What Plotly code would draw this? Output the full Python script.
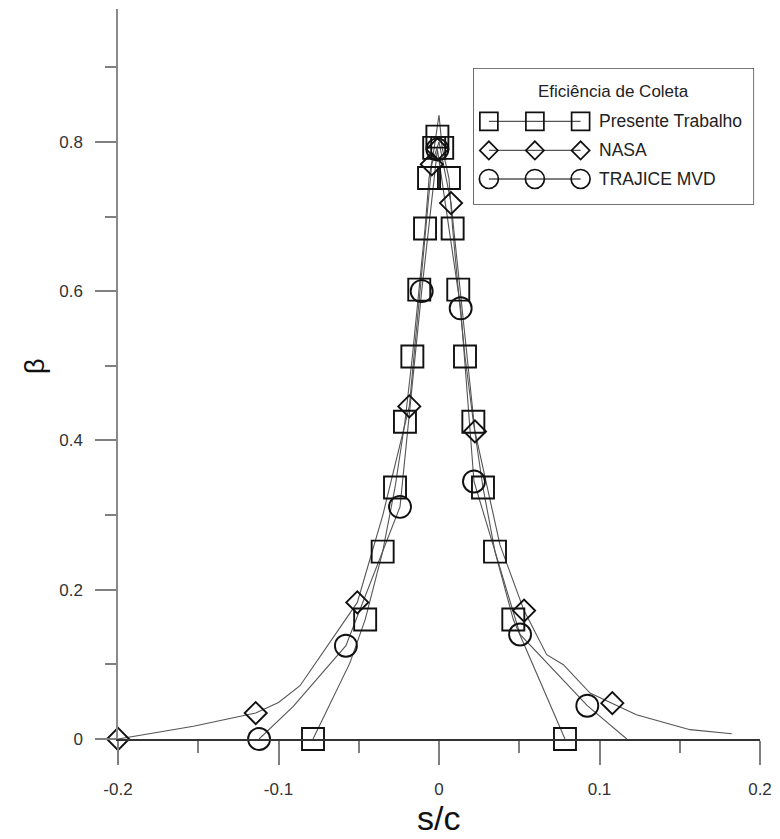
import plotly.graph_objects as go

# ---------------- data ----------------
# Presente Trabalho (squares)
pt_line_x = [-0.0785, -0.0555, -0.046, -0.0351, -0.0274, -0.0212, -0.0166, -0.0123, -0.0087,
             -0.0062, -0.003, 0.0, 0.002, 0.0062, 0.0085, 0.012, 0.0162, 0.0214, 0.0274,
             0.0349, 0.0463, 0.0785]
pt_line_y = [0.0, 0.102, 0.160, 0.251, 0.337, 0.425, 0.5125, 0.602, 0.684,
             0.7515, 0.792, 0.836, 0.792, 0.7515, 0.684, 0.602, 0.5125, 0.425, 0.337,
             0.251, 0.160, 0.0]
pt_mark_x = [-0.0785, -0.046, -0.0351, -0.0274, -0.0212, -0.0166, -0.0123, -0.0087,
             -0.0062, -0.003, -0.001, 0.002, 0.0062, 0.0085, 0.012, 0.0162, 0.0214, 0.0274,
             0.0349, 0.0463, 0.0785]
pt_mark_y = [0.0, 0.160, 0.251, 0.337, 0.425, 0.5125, 0.602, 0.684,
             0.7515, 0.792, 0.807, 0.792, 0.7515, 0.684, 0.602, 0.5125, 0.425, 0.337,
             0.251, 0.160, 0.0]

# NASA (diamonds)
nasa_line_x = [-0.2, -0.153, -0.1142, -0.100, -0.0866, -0.0509, -0.035, -0.0185, -0.0045,
               0.0, 0.0075, 0.0224, 0.038, 0.053, 0.0671, 0.0775, 0.0941, 0.108, 0.123,
               0.1564, 0.1824]
nasa_line_y = [0.0, 0.017, 0.0348, 0.049, 0.0714, 0.183, 0.30, 0.4456, 0.770,
               0.800, 0.718, 0.412, 0.26, 0.172, 0.113, 0.0995, 0.0616, 0.048, 0.0326,
               0.0125, 0.007]
nasa_mark_x = [-0.2, -0.1142, -0.0509, -0.0185, -0.0045, -0.001, 0.0075, 0.0224, 0.053, 0.108]
nasa_mark_y = [0.0, 0.0348, 0.183, 0.4456, 0.770, 0.790, 0.718, 0.412, 0.172, 0.048]

# TRAJICE MVD (circles)
tr_line_x = [-0.1121, -0.0908, -0.058, -0.0243, -0.0108, -0.001, 0.0135, 0.0218, 0.0505,
             0.0754, 0.0924, 0.117]
tr_line_y = [0.0, 0.0437, 0.125, 0.311, 0.600, 0.790, 0.577, 0.345, 0.140,
             0.084, 0.0446, 0.0]
tr_mark_x = [-0.1121, -0.058, -0.0243, -0.0108, -0.001, 0.0135, 0.0218, 0.0505, 0.0924]
tr_mark_y = [0.0, 0.125, 0.311, 0.600, 0.790, 0.577, 0.345, 0.140, 0.0446]

series_names = ["Presente Trabalho", "NASA", "TRAJICE MVD"]
legend_title = "Eficiência de Coleta"
x_title = "s/c"
y_title = "β"
x_ticks = [-0.2, -0.1, 0.0, 0.1, 0.2]
x_ticklabels = ["-0.2", "-0.1", "0", "0.1", "0.2"]
y_ticks = [0.0, 0.2, 0.4, 0.6, 0.8]
y_ticklabels = ["0", "0.2", "0.4", "0.6", "0.8"]
# legend sample positions (fractions of legend box)
leg_sample_x = [0.0537, 0.2184, 0.3820]
leg_rows_y = [0.6105, 0.396, 0.1848]

# ---------------- styling ----------------
LINE_C = "#555555"
MARK_C = "#111111"
FONT = "Liberation Sans, Arial, sans-serif"
symbols = ["square-open", "diamond-open", "circle-open"]
sizes = [22, 17, 22]
leg_sizes = [18, 14, 19]

fig = go.Figure()

lines = [(pt_line_x, pt_line_y), (nasa_line_x, nasa_line_y), (tr_line_x, tr_line_y)]
marks = [(pt_mark_x, pt_mark_y), (nasa_mark_x, nasa_mark_y), (tr_mark_x, tr_mark_y)]

for (lx, ly), name in zip(lines, series_names):
    fig.add_trace(go.Scatter(x=lx, y=ly, mode="lines", name=name, showlegend=False,
                             line=dict(color=LINE_C, width=1.1), cliponaxis=False,
                             hoverinfo="skip"))
for (mx, my), sym, sz, name in zip(marks, symbols, sizes, series_names):
    fig.add_trace(go.Scatter(x=mx, y=my, mode="markers", name=name, showlegend=False,
                             marker=dict(symbol=sym, size=sz, color=MARK_C,
                                         line=dict(width=1.9, color=MARK_C)),
                             cliponaxis=False))

# custom legend drawn on an auxiliary axis pair
for ry, sym, sz, name in zip(leg_rows_y, symbols, leg_sizes, series_names):
    fig.add_trace(go.Scatter(x=leg_sample_x, y=[ry] * 3, mode="lines+markers",
                             xaxis="x2", yaxis="y2", showlegend=False, hoverinfo="skip",
                             line=dict(color=LINE_C, width=1.3),
                             marker=dict(symbol=sym, size=sz, color=MARK_C,
                                         line=dict(width=1.7, color=MARK_C)),
                             cliponaxis=False))
    fig.add_annotation(x=0.4393, y=ry, xref="x2", yref="y2", text=name, showarrow=False,
                       xanchor="left", yanchor="middle",
                       font=dict(family=FONT, size=17.5, color="#222222"))

fig.add_annotation(x=0.5, y=0.828, xref="x2", yref="y2", text=legend_title, showarrow=False,
                   xanchor="center", yanchor="middle",
                   font=dict(family=FONT, size=17, color="#222222"))

LEG_X0, LEG_X1, LEG_Y0, LEG_Y1 = 0.5543, 0.9896, 0.7329, 0.9182
fig.add_shape(type="rect", xref="paper", yref="paper", x0=LEG_X0, x1=LEG_X1,
              y0=LEG_Y0, y1=LEG_Y1, line=dict(color="#444444", width=1.5),
              fillcolor="rgba(0,0,0,0)", layer="below")

# axis titles
fig.add_annotation(x=0.4998, y=-0.1082, xref="paper", yref="paper", text=x_title,
                   showarrow=False, xanchor="center", yanchor="middle", borderpad=0,
                   font=dict(family=FONT, size=34, color="#111111"))
fig.add_annotation(x=-0.1293, y=0.511, xref="paper", yref="paper", text=y_title,
                   showarrow=False, xanchor="center", yanchor="middle", textangle=-90,
                   font=dict(family=FONT, size=27, color="#111111"))

# the page body adds an 8px offset; margins are set so the plot lands where the reference has it
fig.update_layout(
    width=780, height=839,
    margin=dict(l=110, r=28, t=1, b=108),
    paper_bgcolor="white", plot_bgcolor="white",
    showlegend=False,
    xaxis=dict(range=[-0.2, 0.2], tickvals=x_ticks, ticktext=x_ticklabels,
               showgrid=False, zeroline=False, showline=True, linecolor="#333333",
               linewidth=1.5, ticks="outside", ticklen=24, tickwidth=1.5,
               tickcolor="#808080", ticklabelstandoff=10,
               tickfont=dict(family=FONT, size=17, color="#333333"),
               minor=dict(dtick=0.05, tick0=0, ticks="outside", ticklen=12,
                          tickwidth=1.5, tickcolor="#808080", showgrid=False)),
    yaxis=dict(range=[0, 0.978], tickvals=y_ticks, ticktext=y_ticklabels,
               showgrid=False, zeroline=False, showline=True, linecolor="#8a8a8a",
               linewidth=1.5, ticks="outside", ticklen=21, tickwidth=1.5,
               tickcolor="#808080", ticklabelstandoff=9,
               tickfont=dict(family=FONT, size=17, color="#333333"),
               minor=dict(dtick=0.1, tick0=0, ticks="outside", ticklen=11,
                          tickwidth=1.5, tickcolor="#808080", showgrid=False)),
    xaxis2=dict(domain=[LEG_X0, LEG_X1], range=[0, 1], visible=False, anchor="y2"),
    yaxis2=dict(domain=[LEG_Y0, LEG_Y1], range=[0, 1], visible=False, anchor="x2"),
)

fig.write_html("out.html")
